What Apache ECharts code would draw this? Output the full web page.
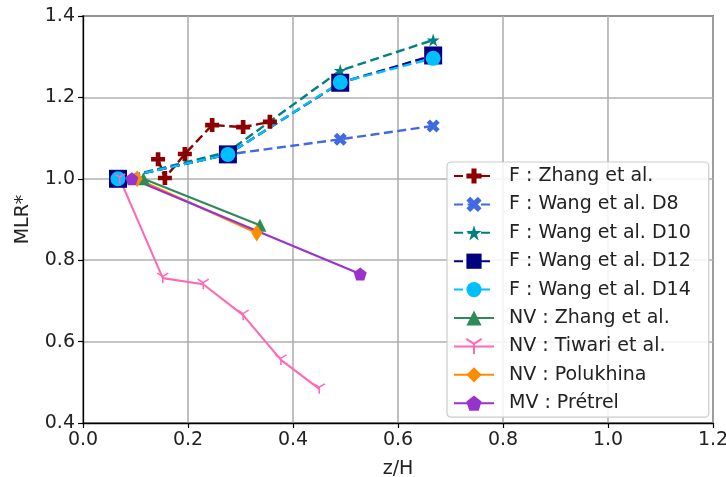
<!DOCTYPE html>
<html>
<head>
<meta charset="utf-8">
<script src="https://cdn.jsdelivr.net/npm/echarts@6/dist/echarts.min.js"></script>
<style>
html,body{margin:0;padding:0;background:#fff;}
#chart{width:726px;height:477px;}
</style>
</head>
<body>
<div id="chart"></div>
<script>
// ---- data ----
var fZhangX = [0.143, 0.156, 0.194, 0.246, 0.305, 0.356];
var fZhangY = [1.048, 1.002, 1.061, 1.132, 1.127, 1.140];
var wangX = [0.0667, 0.276, 0.490, 0.667];
var wangD8Y = [1.0, 1.06, 1.097, 1.130];
var wangD10Y = [1.0, 1.066, 1.266, 1.341];
var wangD12Y = [1.0, 1.060, 1.236, 1.303];
var wangD14Y = [1.0, 1.060, 1.237, 1.296];
var nvZhangX = [0.115, 0.337];
var nvZhangY = [1.0, 0.886];
var tiwariX = [0.07, 0.152, 0.229, 0.305, 0.377, 0.450];
var tiwariY = [1.0, 0.756, 0.741, 0.665, 0.555, 0.484];
var polukhinaX = [0.103, 0.331];
var polukhinaY = [1.0, 0.867];
var pretrelX = [0.093, 0.528];
var pretrelY = [1.0, 0.766];
var seriesNames = ['F : Zhang et al.', 'F : Wang et al. D8', 'F : Wang et al. D10', 'F : Wang et al. D12', 'F : Wang et al. D14', 'NV : Zhang et al.', 'NV : Tiwari et al.', 'NV : Polukhina', 'MV : Prétrel'];
var xTicks = [0, 0.2, 0.4, 0.6, 0.8, 1.0, 1.2];
var yTicks = [0.4, 0.6, 0.8, 1.0, 1.2, 1.4];

function pairs(xs, ys) { return xs.map(function (x, i) { return [x, ys[i]]; }); }

var FONT = 'DejaVu Sans';
var FS = 19;
var plusPath = 'path://M2,0H4V2H6V4H4V6H2V4H0V2H2Z';
var xPath = 'path://M6,0L8,2L6,4L8,6L6,8L4,6L2,8L0,6L2,4L0,2L2,0L4,2Z';
var starPath = 'path://M95,0L117.5,69.1L190,69.1L131.3,111.8L153.8,180.9L95,138.2L36.2,180.9L58.7,111.8L0,69.1L72.5,69.1Z';
var pentPath = 'path://M95,0L190,69L154,181L36,181L0,69Z';
var triDownPath = 'path://M5,5L5,10M5,5L0.67,2.5M5,5L9.33,2.5';

function mk(name, data, color, symbol, size, dashed, extra) {
  var s = {
    name: name, type: 'line', data: data,
    symbol: symbol, symbolSize: size, showSymbol: true,
    lineStyle: { color: color, width: dashed ? 2.4 : 2.1, type: dashed ? [9, 4.5] : 'solid' },
    itemStyle: { color: color },
    emphasis: { disabled: true },
    animation: false
  };
  if (extra) { for (var k in extra) s[k] = extra[k]; }
  return s;
}

var series = [
  mk(seriesNames[0], pairs(fZhangX, fZhangY), '#8B0000', plusPath, 14, true),
  mk(seriesNames[1], pairs(wangX, wangD8Y), '#4169E1', xPath, 13, true),
  mk(seriesNames[2], pairs(wangX, wangD10Y), '#008080', starPath, 13, true),
  mk(seriesNames[3], pairs(wangX, wangD12Y), '#000080', 'rect', 18, true),
  mk(seriesNames[4], pairs(wangX, wangD14Y), '#00BFFF', 'circle', 15, true),
  mk(seriesNames[5], pairs(nvZhangX, nvZhangY), '#2E8B57', 'triangle', 13, false),
  mk(seriesNames[6], pairs(tiwariX, tiwariY), '#FF69B4', triDownPath, [11, 10], false,
     { itemStyle: { color: '#FF69B4', borderColor: '#FF69B4', borderWidth: 1.5 } }),
  mk(seriesNames[7], pairs(polukhinaX, polukhinaY), '#FF8C00', 'diamond', [11, 17], false),
  mk(seriesNames[8], pairs(pretrelX, pretrelY), '#9932CC', pentPath, 13, false)
];

var chart = echarts.init(document.getElementById('chart'), null, { renderer: 'canvas' });
chart.setOption({
  backgroundColor: '#fff',
  animation: false,
  grid: { left: 83, right: 13, top: 16, bottom: 54, containLabel: false, outerBoundsMode: 'none', show: true, borderColor: '#000', borderWidth: 1.3, backgroundColor: 'transparent' },
  xAxis: {
    type: 'value', min: xTicks[0], max: xTicks[xTicks.length - 1], interval: 0.2,
    name: 'z/H', nameLocation: 'middle', nameGap: 37,
    nameTextStyle: { fontFamily: FONT, fontSize: FS, color: '#222' },
    axisLine: { show: true, lineStyle: { color: '#000', width: 1.3 } },
    axisTick: { show: true, length: 5, lineStyle: { color: '#000', width: 1.2 } },
    axisLabel: { fontFamily: FONT, fontSize: FS, color: '#222', margin: 8, formatter: function (v) { return v.toFixed(1); } },
    splitLine: { show: true, lineStyle: { color: '#b0b0b0', width: 1.6 } }
  },
  yAxis: {
    type: 'value', min: yTicks[0], max: yTicks[yTicks.length - 1], interval: 0.2,
    name: 'MLR*', nameLocation: 'middle', nameGap: 50, nameRotate: 90,
    nameTextStyle: { fontFamily: FONT, fontSize: FS, color: '#222' },
    axisLine: { show: true, lineStyle: { color: '#000', width: 1.3 } },
    axisTick: { show: true, length: 5, lineStyle: { color: '#000', width: 1.2 } },
    axisLabel: { fontFamily: FONT, fontSize: FS, color: '#222', margin: 8, formatter: function (v) { return v.toFixed(1); } },
    splitLine: { show: true, lineStyle: { color: '#b0b0b0', width: 1.6 } }
  },
  legend: {
    data: seriesNames,
    orient: 'vertical', left: 447, top: 162,
    padding: [4, 18, 4, 6],
    itemWidth: 40, itemHeight: 19, itemGap: 8.4,
    backgroundColor: 'rgba(255,255,255,0.85)',
    borderColor: '#cccccc', borderWidth: 1.2, borderRadius: 4,
    textStyle: { fontFamily: FONT, fontSize: FS, color: '#222', lineHeight: 20, padding: [0, 0, 0, 10] }
  },
  series: series
});
</script>
</body>
</html>
